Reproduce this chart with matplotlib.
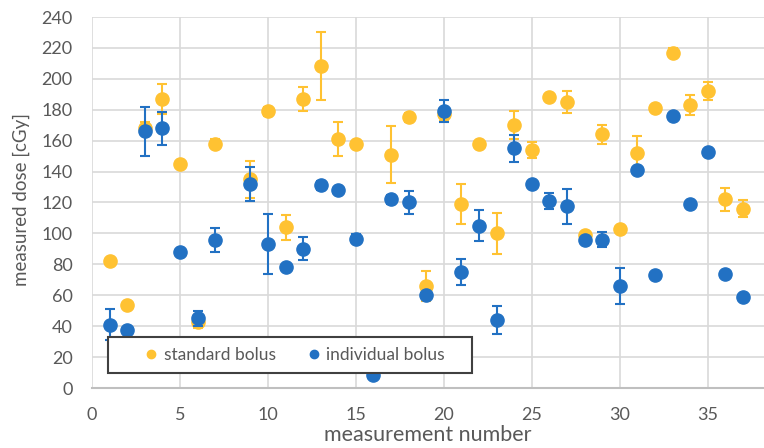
import numpy as np
import matplotlib
matplotlib.use("Agg")
import matplotlib.pyplot as plt
from matplotlib.lines import Line2D
from matplotlib.patches import Rectangle

plt.rcParams['font.family'] = ['Lato', 'DejaVu Sans']

# measurement numbers 1..37 (8 missing in both series, 16 only for individual)
meas = np.arange(1, 38)

standard = [82, 54, 168, 187, 145, 43, 158, np.nan, 135, 179,
            104, 187, 208, 161, 158, np.nan, 151, 175, 66, 177,
            119, 158, 100, 170, 154, 188, 185, 99, 164, 103,
            152, 181, 217, 183, 192, 122, 116]
standard_err = [0, 0, 4, 9.5, 0, 4, 3, 0, 12, 3,
                8, 8, 22, 11, 0, 0, 18.5, 3, 9.5, 4,
                13, 2, 13.5, 9, 5, 1, 7, 2, 6, 2,
                11, 0, 3, 6.5, 6, 7.5, 5.5]

individual = [41, 37.5, 166, 168, 88, 45, 96, np.nan, 132, 93,
              78, 90, 131, 128, 96.5, 8.5, 122, 120, 60, 179,
              75, 105, 44, 155, 132, 121, 117.5, 96, 96, 66,
              141, 73, 176, 119, 152.5, 73.5, 59]
individual_err = [10, 0, 15.7, 10.7, 0, 5, 7.7, 0, 11, 19.5,
                  0, 7.5, 3, 0, 3, 0, 3, 7.5, 2, 7,
                  8.5, 10, 9, 8.5, 0, 5, 11.5, 0, 5, 11.6,
                  0, 0, 0, 0, 0, 0, 0]

yellow = '#FFC232'
blue = '#2271C3'
grey = '#595959'

W, H = 764, 448
fig = plt.figure(figsize=(W / 100, H / 100), dpi=100)
ax = fig.add_axes([92 / W, 1 - 388 / H, 1 - 92 / W, 371 / H])

ax.errorbar(meas, standard, yerr=standard_err, fmt='o', color=yellow,
            ms=9.5, elinewidth=1.5, capsize=3.6, capthick=1.5, zorder=3)
ax.errorbar(meas, individual, yerr=individual_err, fmt='o', color=blue,
            ms=9.5, elinewidth=1.5, capsize=3.6, capthick=1.5, zorder=4)

ax.set_xlim(0, 38.2)
ax.set_ylim(0, 240)
ax.set_xticks(np.arange(0, 36, 5))
ax.set_yticks(np.arange(0, 241, 20))
ax.grid(True, color='#D9D9D9', lw=1.2)
ax.set_axisbelow(True)
for s in ['top', 'right', 'left']:
    ax.spines[s].set_visible(False)
ax.spines['bottom'].set_color('#BFBFBF')
ax.spines['bottom'].set_linewidth(1.5)
ax.tick_params(length=0, labelsize=13, colors=grey)
ax.tick_params(axis='y', pad=14)
ax.tick_params(axis='x', pad=14)

ax.set_xlabel('measurement number', fontsize=15.5, color=grey)
ax.set_ylabel('measured dose [cGy]', fontsize=13.5, color=grey)
ax.xaxis.set_label_coords(0.499, -0.100)
ax.yaxis.set_label_coords(-0.092, 0.509)

# legend: dots only, framed box drawn separately
handles = [Line2D([], [], ls='none', marker='o', ms=6, color=yellow),
           Line2D([], [], ls='none', marker='o', ms=6, color=blue)]
leg = fig.legend(handles, ['standard bolus', 'individual bolus'],
                 loc='center', bbox_to_anchor=(294.5 / W, 1 - 355 / H),
                 ncol=2, fontsize=12.5, frameon=False, handlelength=0.8,
                 handletextpad=0.3, columnspacing=1.8, borderpad=0)
for t in leg.get_texts():
    t.set_color(grey)
fig.patches.append(Rectangle((108 / W, 1 - 373 / H), 364 / W, 36 / H,
                             transform=fig.transFigure, fill=True,
                             facecolor='white', edgecolor='#404040',
                             lw=1.5, zorder=5))
leg.set_zorder(6)

fig.savefig('out.png', dpi=100)
